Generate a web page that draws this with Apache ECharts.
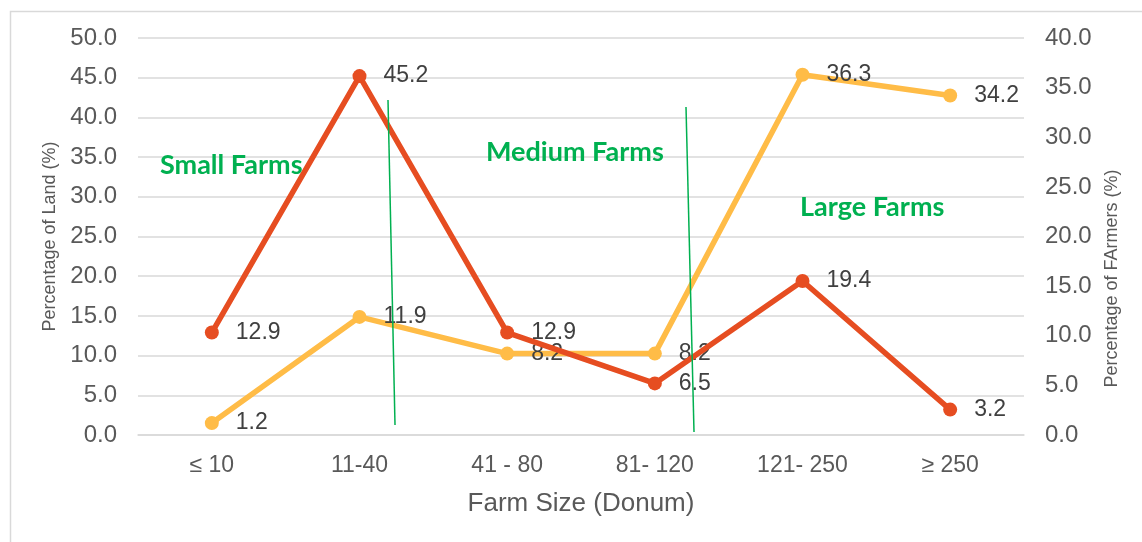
<!DOCTYPE html>
<html>
<head>
<meta charset="utf-8">
<script src="https://cdn.jsdelivr.net/npm/echarts@6/dist/echarts.min.js"></script>
<style>
  html, body { margin: 0; padding: 0; background: #ffffff; }
  #chart { width: 1142px; height: 542px; }
</style>
</head>
<body>
<div id="chart"></div>
<script>
// Farm size classes (donum)
const categories = ['≤ 10', '11-40', '41 - 80', '81- 120', '121- 250', '≥ 250'];
// Share of total land held by each class (%), left axis
const landShare = [12.9, 45.2, 12.9, 6.5, 19.4, 3.2];
// Share of farmers in each class (%), right axis
const farmerShare = [1.2, 11.9, 8.2, 8.2, 36.3, 34.2];

const FONT = '"Liberation Sans", Arial, sans-serif';
const AXIS_GREY = '#595959';
const GRID_GREY = '#d9d9d9';
const RED = '#e64d21';
const GOLD = '#ffbc47';
const GREEN = '#00b050';
const TAG_FONT = 'bold 27px Lato, "Open Sans", sans-serif';

const chart = echarts.init(document.getElementById('chart'), null, { renderer: 'canvas' });

const labelStyle = {
  show: true,
  position: 'right',
  distance: 17,
  fontFamily: FONT,
  fontSize: 23,
  color: '#404040',
  formatter: p => p.value.toFixed(1)
};

chart.setOption({
  backgroundColor: '#ffffff',
  animation: false,
  grid: { left: 138, right: 118, top: 38, bottom: 107 },
  xAxis: {
    type: 'category',
    data: categories,
    boundaryGap: true,
    name: 'Farm Size (Donum)',
    nameLocation: 'middle',
    nameGap: 56,
    nameTextStyle: { fontFamily: FONT, fontSize: 26, color: AXIS_GREY },
    axisLine: { show: true, lineStyle: { color: GRID_GREY, width: 1.5 } },
    axisTick: { show: false },
    axisLabel: { fontFamily: FONT, fontSize: 23, color: AXIS_GREY, margin: 19 }
  },
  yAxis: [
    {
      type: 'value',
      min: 0, max: 50, interval: 5,
      name: 'Percentage of Land (%)',
      nameLocation: 'middle',
      nameGap: 77,
      nameTextStyle: { fontFamily: FONT, fontSize: 18, color: AXIS_GREY },
      axisLine: { show: false },
      axisTick: { show: false },
      axisLabel: { fontFamily: FONT, fontSize: 24, color: AXIS_GREY, margin: 21, formatter: v => v.toFixed(1) },
      splitLine: { lineStyle: { color: GRID_GREY, width: 1.5 } }
    },
    {
      type: 'value',
      min: 0, max: 40, interval: 5,
      position: 'right',
      name: 'Percentage of FArmers (%)',
      nameLocation: 'middle',
      nameGap: 76,
      nameTextStyle: { fontFamily: FONT, fontSize: 18, color: AXIS_GREY, padding: [0, 84, 0, 0] },
      axisLine: { show: false },
      axisTick: { show: false },
      axisLabel: { fontFamily: FONT, fontSize: 24, color: AXIS_GREY, margin: 21, formatter: v => v.toFixed(1) },
      splitLine: { show: false }
    }
  ],
  series: [
    {
      name: 'Percentage of Land',
      type: 'line',
      yAxisIndex: 0,
      data: landShare,
      symbol: 'circle',
      symbolSize: 14,
      itemStyle: { color: RED },
      lineStyle: { color: RED, width: 5.5 },
      label: labelStyle,
      z: 3
    },
    {
      name: 'Percentage of Farmers',
      type: 'line',
      yAxisIndex: 1,
      data: farmerShare,
      symbol: 'circle',
      symbolSize: 14,
      itemStyle: { color: GOLD },
      lineStyle: { color: GOLD, width: 5.5 },
      label: labelStyle,
      z: 2
    }
  ],
  graphic: [
    // chart-area frame
    { type: 'rect', left: 8, top: 9, shape: { width: 1200, height: 600 }, style: { fill: 'none', stroke: GRID_GREY, lineWidth: 1.5 }, silent: true, z: -1 },
    // class dividers
    { type: 'line', shape: { x1: 388, y1: 100, x2: 395, y2: 425 }, style: { stroke: GREEN, lineWidth: 1.5 }, z: 10 },
    { type: 'line', shape: { x1: 686, y1: 107, x2: 694, y2: 432 }, style: { stroke: GREEN, lineWidth: 1.5 }, z: 10 },
    // class names
    { type: 'text', left: 160, top: 152, style: { text: 'Small Farms', fill: GREEN, font: TAG_FONT }, z: 10 },
    { type: 'text', left: 486, top: 139, style: { text: 'Medium Farms', fill: GREEN, font: TAG_FONT }, z: 10 },
    { type: 'text', left: 800, top: 194, style: { text: 'Large Farms', fill: GREEN, font: TAG_FONT }, z: 10 }
  ]
});
</script>
</body>
</html>
